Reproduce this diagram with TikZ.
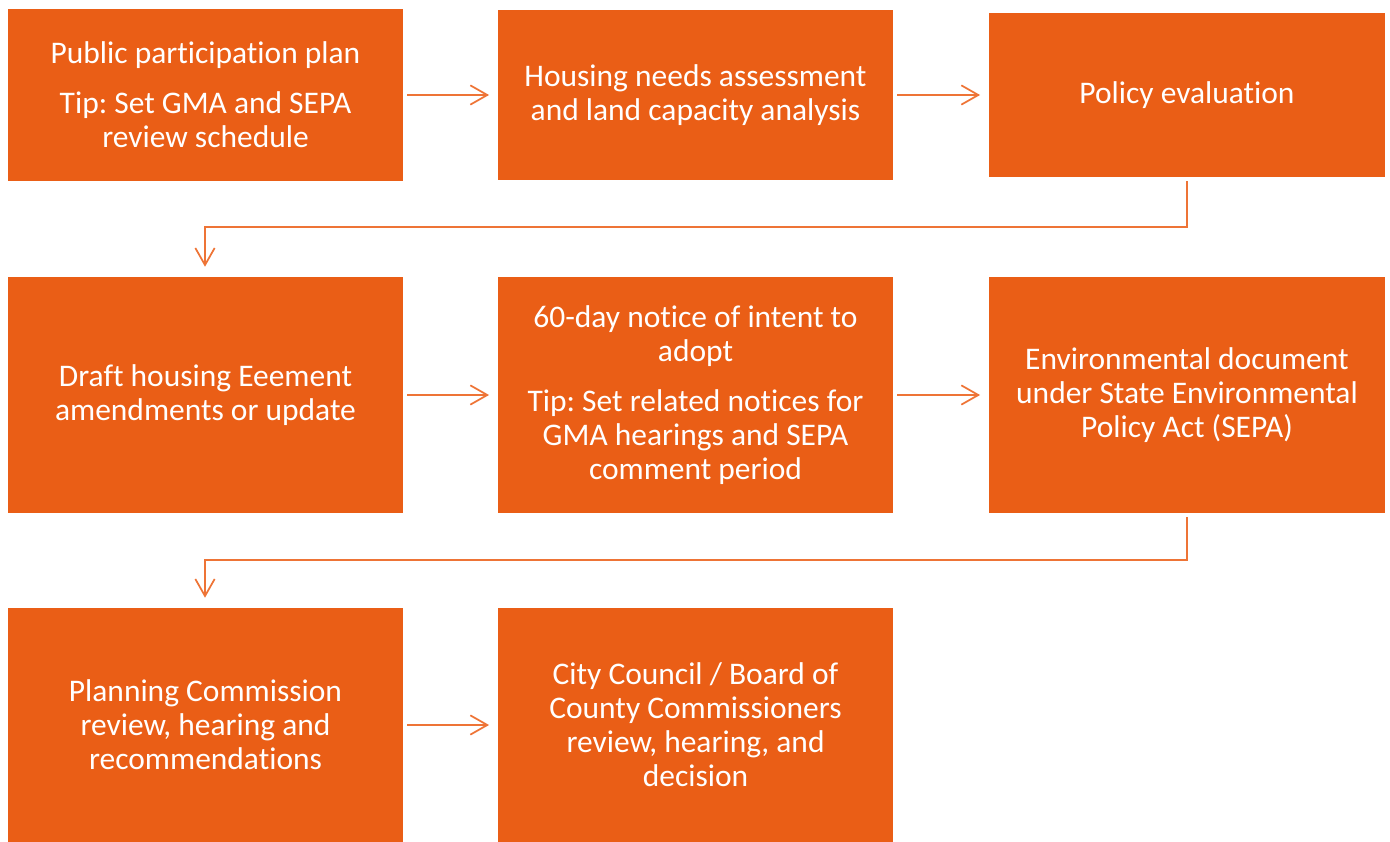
\documentclass[tikz,border=0pt]{standalone}
\usepackage{fontspec}
\setmainfont[Ligatures=NoCommon]{Carlito}
\frenchspacing
\usetikzlibrary{arrows.meta}
\definecolor{boxorange}{HTML}{EA5E16}
\definecolor{lineorange}{HTML}{EE7436}
\tikzset{
  box/.style={fill=boxorange, draw=none, text=white, align=center,
    minimum width=296.25pt, inner sep=0pt,
    font=\fontsize{23.6}{25.5}\selectfont},
  conn/.style={draw=lineorange, line width=1.3pt,
    -{Straight Barb[length=12.75pt,width=14.5pt,line width=1.3pt]}},
}
\begin{document}
\begin{tikzpicture}[x=0.75pt,y=-0.75pt]
\useasboundingbox (0,0) rectangle (1390,842);
% row 1
\node[box, minimum height=129pt] (A) at (205.5,95) {Public participation plan\\[12pt]Tip: Set GMA and SEPA\\review schedule};
\node[box, minimum height=127.5pt] (B) at (695.5,95) {Housing needs assessment\\and land capacity analysis};
\node[box, minimum height=123pt, minimum width=297pt] (C) at (1187,95) {Policy evaluation};
% row 2
\node[box, minimum height=177pt] (D) at (205.5,395) {Draft housing Eeement\\amendments or update};
\node[box, minimum height=177pt] (E) at (695.5,395) {60-day notice of intent to\\adopt\\[12pt]Tip: Set related notices for\\GMA hearings and SEPA\\comment period};
\node[box, minimum height=177pt, minimum width=297pt] (F) at (1187,395) {Environmental document\\under State Environmental\\Policy Act (SEPA)};
% row 3
\node[box, minimum height=175.5pt] (G) at (205.5,725) {Planning Commission\\review, hearing and\\recommendations};
\node[box, minimum height=175.5pt] (H) at (695.5,725) {City Council / Board of\\County Commissioners\\review, hearing, and\\decision};
% connectors
\draw[conn, shorten <=3pt, shorten >=6.5pt] (A.east |- 0,95) -- (B.west |- 0,95);
\draw[conn, shorten <=3pt, shorten >=6.5pt] (B.east |- 0,95) -- (C.west |- 0,95);
\draw[conn, shorten <=3pt, shorten >=6.5pt] (D.east) -- (E.west);
\draw[conn, shorten <=3pt, shorten >=6.5pt] (E.east) -- (F.west);
\draw[conn, shorten <=3pt, shorten >=6.5pt] (G.east) -- (H.west);
\coordinate (c1) at (1187,227);
\coordinate (c2) at (205,227);
\draw[conn, shorten <=3pt, shorten >=7.5pt] (C.south) -- (c1) -- (c2) -- (D.north -| c2);
\coordinate (c3) at (1187,560);
\coordinate (c4) at (205,560);
\draw[conn, shorten <=3pt, shorten >=7.5pt] (F.south) -- (c3) -- (c4) -- (G.north -| c4);
\end{tikzpicture}
\end{document}
